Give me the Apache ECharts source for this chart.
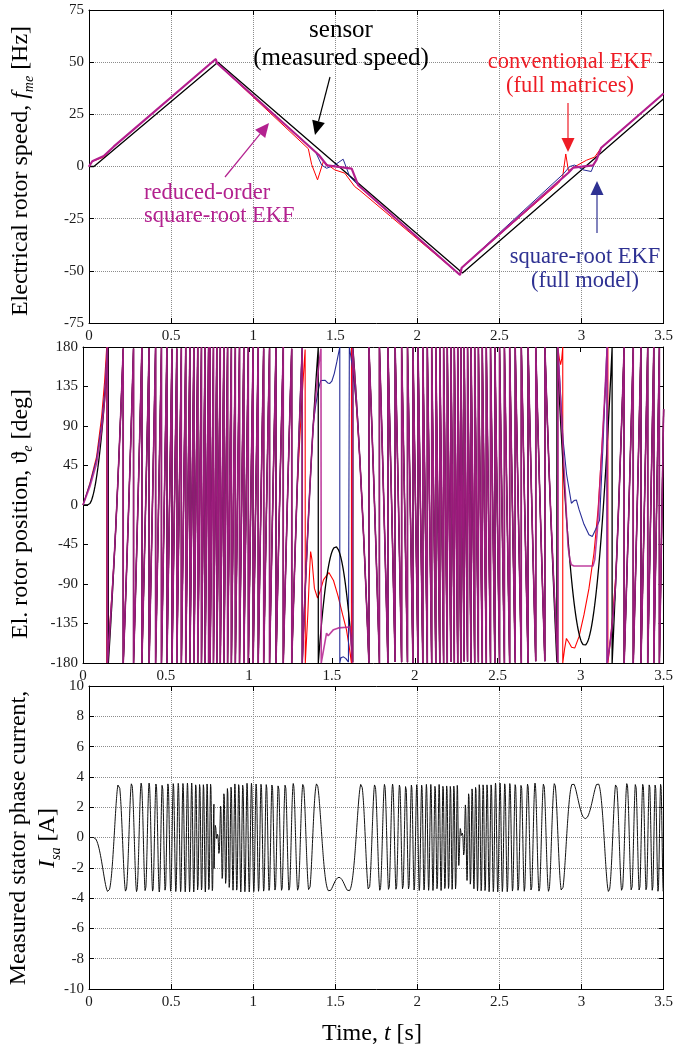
<!DOCTYPE html>
<html>
<head>
<meta charset="utf-8">
<script src="https://cdn.jsdelivr.net/npm/echarts@6/dist/echarts.min.js"></script>
<style>
html, body { margin: 0; padding: 0; background: #fff; }
#chart { width: 676px; height: 1049px; }
</style>
</head>
<body>
<div id="chart"></div>
<script>
// tick labels
var timeTicks = [0, 0.5, 1, 1.5, 2, 2.5, 3, 3.5];
var speedTicks = [-75, -50, -25, 0, 25, 50, 75];
var angleTicks = [-180, -135, -90, -45, 0, 45, 90, 135, 180];
var currentTicks = [-10, -8, -6, -4, -2, 0, 2, 4, 6, 8, 10];

// electrical rotor speed [Hz], breakpoints
var sensorT = [0, 0.03, 0.785, 2.275, 3.5];
var sensorF = [0, 0, 50, -51, 32.5];
var magT = [0, 0.02, 0.09, 0.15, 0.772, 0.78, 1.40, 1.45, 1.60, 1.64, 2.26, 2.27, 2.92, 2.95, 3.07, 3.09, 3.12, 3.5];
var magF = [0, 2.5, 5, 9.5, 51.5, 49.5, 5.5, 0.5, -1, -9, -52, -48.5, -3, -0.5, 0.5, 3, 9, 35];
var redT = [0, 0.02, 0.09, 0.15, 0.772, 0.78, 1.336, 1.356, 1.392, 1.427, 1.497, 1.558, 1.618, 1.65, 2.26, 2.27, 2.86, 2.885, 2.904, 2.92, 2.95, 3.03, 3.08, 3.12, 3.5];
var redF = [0, 2.5, 4.5, 9.5, 51.5, 49.5, 8.5, 1, -6.4, 2.3, -1.6, -3.2, -9.6, -11.5, -52, -48.5, -8, -5, 6, -2, -0.5, 3, 4.5, 9, 35];
var blueT = [0, 0.02, 0.09, 0.15, 0.772, 0.78, 1.38, 1.417, 1.447, 1.497, 1.548, 1.588, 1.64, 2.26, 2.27, 2.89, 2.928, 2.958, 3.009, 3.059, 3.079, 3.12, 3.5];
var blueF = [0, 2.5, 5, 9.5, 51.5, 49.5, 7, 0.7, -0.85, 0.7, 3.5, -4.8, -9, -52, -48.5, -3.5, 0, 0.7, -1.6, -2.4, 1.6, 9, 35];

// electrical position [deg]: sensor anchors, and estimator traces where they are legible (unwrapped)
var sensorAnchors = [[0, 0], [1.524, -47.5], [3.014, -159]];
var magWin0 = [[0, 0], [0.02, 10], [0.042, 21], [0.082, 47.5], [0.112, 85], [0.132, 123], [0.148, 180]];
var magWinA = [[1.436, -180], [1.455, -160], [1.468, -146], [1.478, -149], [1.49, -147], [1.51, -142], [1.54, -140], [1.61, -139], [1.625, -180]];
var magWinB = [[2.862, 180], [2.895, 60], [2.924, -47.5], [2.935, -62], [2.944, -68], [2.96, -69.5], [3.074, -69.5], [3.085, -62], [3.10, -30], [3.13, 70], [3.16, 180]];
var redWin0 = [[0, 0], [0.042, 25], [0.082, 55], [0.112, 100], [0.13, 140], [0.143, 180]];
var redWinA = [[1.34, -180], [1.355, -125], [1.366, -75], [1.372, -53], [1.38, -62], [1.395, -95], [1.414, -106], [1.43, -98], [1.45, -85], [1.482, -77], [1.51, -86], [1.538, -104], [1.565, -125], [1.588, -142], [1.605, -162], [1.618, -180]];
var redWinB = [[2.862, 180], [2.872, 166], [2.879, 160], [2.886, 167], [2.892, 180], [2.903, 196], [2.914, 208], [2.93, 203], [2.945, 198], [2.964, 197], [2.99, 210], [3.02, 235], [3.05, 265], [3.08, 305], [3.105, 355], [3.135, 448], [3.164, 540]];
var blueWin0 = [[0, 0], [0.042, 24], [0.082, 52], [0.112, 92], [0.132, 130], [0.146, 180]];
var blueWinA = [[1.438, 144], [1.46, 142], [1.475, 139], [1.488, 138.6], [1.50, 141], [1.515, 150], [1.53, 163], [1.548, 180], [1.555, 186], [1.57, 187], [1.585, 185], [1.60, 181], [1.605, 180]];
var blueWinB = [[2.862, 180], [2.875, 140], [2.894, 74], [2.915, 35], [2.944, 2], [2.96, 5], [2.974, 5.8], [2.99, -5], [3.02, -22], [3.05, -34], [3.07, -36], [3.09, -28], [3.114, -17], [3.135, 70], [3.158, 180]];

// phase current envelope [A] (sign follows the torque direction)
var ampT = [0, 0.755, 0.765, 0.775, 0.785, 0.795, 0.81, 0.84, 0.9, 2.245, 2.255, 2.265, 2.275, 2.285, 2.30, 2.33, 2.38, 3.5];
var ampA = [-3.6, -3.6, -1.5, -0.4, 0.4, 1.5, 2.8, 3.3, 3.6, 3.5, 1.5, 0.4, -0.4, -1.5, -2.8, -3.3, -3.6, -3.6];

var COL = { black: '#000000', red: '#ff0000', blue: '#262b96', mag: '#b41e8e' };
var TXT = { red: '#ee1c25', blue: '#2e3192', mag: '#b3218f' };
var SERIF = 'Liberation Serif, DejaVu Serif, serif';
var DT = 0.0005, TEND = 3.5, N = Math.round(TEND / DT);
var TAU = 0.05; // how fast the estimates pull back onto the sensor angle

function zip(T, V) { return T.map(function (t, i) { return [t, V[i]]; }); }

function interp(T, V, t) {
  if (t <= T[0]) return V[0];
  for (var i = 1; i < T.length; i++) {
    if (t <= T[i]) return V[i - 1] + (V[i] - V[i - 1]) * (t - T[i - 1]) / (T[i] - T[i - 1]);
  }
  return V[V.length - 1];
}

function wrap180(x) { return x - 360 * Math.floor((x + 180) / 360); }

// cumulative integral of the sensor speed on a fixed grid
var acc = [0];
for (var i = 1; i <= N; i++) {
  acc.push(acc[i - 1] + 0.5 * (interp(sensorT, sensorF, (i - 1) * DT) + interp(sensorT, sensorF, i * DT)) * DT);
}
function Fs(t) {
  var x = t / DT, i = Math.floor(x);
  if (i < 0) return 0;
  if (i >= N) return acc[N];
  return acc[i] + (acc[i + 1] - acc[i]) * (x - i);
}

// sensor angle, integrated from the nearest anchor, kept continuous
var sensorU = [], shift = 0, prevK = 0;
for (i = 0; i <= N; i++) {
  var t = i * DT, k = 0;
  for (var a = 1; a < sensorAnchors.length; a++) {
    if (t >= (sensorAnchors[a - 1][0] + sensorAnchors[a][0]) / 2) k = a;
  }
  var u = sensorAnchors[k][1] + 360 * (Fs(t) - Fs(sensorAnchors[k][0]));
  if (k !== prevK) { shift = 360 * Math.round((sensorU[i - 1] - u) / 360); prevK = k; }
  sensorU.push(u + shift);
}
function sensorAt(t) {
  var x = t / DT, i = Math.floor(x);
  if (i >= N) return sensorU[N];
  return sensorU[i] + (sensorU[i + 1] - sensorU[i]) * (x - i);
}

// estimator angle: read windows, in between it follows the sensor with a fading error
function buildEstimator(windows) {
  var chains = [];
  windows.forEach(function (w, k) {
    chains.push(w.map(function (p) { return [p[0], p[1]]; }));
    var te = w[w.length - 1][0], ue = w[w.length - 1][1];
    var next = windows[k + 1];
    var ts = next ? next[0][0] : TEND;
    var eEnd = wrap180(ue - sensorAt(te));
    var eStart = next ? wrap180(next[0][1] - sensorAt(ts)) : 0;
    var gap = [];
    for (var i = Math.floor(te / DT + 1e-9) + 1; next ? i * DT < ts - 1e-9 : i * DT <= TEND + 1e-9; i++) {
      var t = i * DT;
      var e = eEnd * Math.max(0, 1 - (t - te) / TAU) + eStart * Math.max(0, 1 - (ts - t) / TAU);
      gap.push([t, sensorAt(t) + e]);
    }
    if (gap.length) chains.push(gap);
  });
  return chains;
}

function wrapChains(chains) {
  var out = [];
  chains.forEach(function (pts) {
    for (var j = 0; j < pts.length; j++) {
      var t = pts[j][0], u = pts[j][1];
      if (j > 0) {
        var t0 = pts[j - 1][0], u0 = pts[j - 1][1];
        var n0 = Math.floor((u0 + 180) / 360), n1 = Math.floor((u + 180) / 360), m, b, tc;
        for (m = n0 + 1; m <= n1; m++) {
          b = m * 360 - 180; tc = t0 + (b - u0) / (u - u0) * (t - t0);
          out.push([tc, 180], [tc, -180]);
        }
        for (m = n0; m > n1; m--) {
          b = m * 360 - 180; tc = t0 + (b - u0) / (u - u0) * (t - t0);
          out.push([tc, -180], [tc, 180]);
        }
      }
      out.push([t, wrap180(u)]);
    }
  });
  return out;
}

var sensorChain = sensorU.map(function (u, i) { return [i * DT, u]; });
var sensorPos = wrapChains([sensorChain]);
var magPos = wrapChains(buildEstimator([magWin0, magWinA, magWinB]));
var redPos = wrapChains(buildEstimator([redWin0, redWinA, redWinB]));
var bluePos = wrapChains(buildEstimator([blueWin0, blueWinA, blueWinB]));

var currentData = sensorChain.map(function (p) {
  return [p[0], interp(ampT, ampA, p[0]) * Math.sin(p[1] * Math.PI / 180)];
});

var grids = [
  { left: 89, top: 10, width: 579, height: 313 },
  { left: 83, top: 347, width: 585, height: 316 },
  { left: 89, top: 686, width: 579, height: 303 }
];
var yTicks = [speedTicks, angleTicks, currentTicks];

var xAxes = [], yAxes = [];
[0, 1, 2].forEach(function (g) {
  xAxes.push({
    type: 'value', gridIndex: g, min: timeTicks[0], max: timeTicks[timeTicks.length - 1],
    interval: timeTicks[1] - timeTicks[0],
    axisLine: { show: true, onZero: false, lineStyle: { color: '#000', width: 1 } },
    axisTick: { show: true, inside: true, length: 5, lineStyle: { color: '#000' } },
    axisLabel: { fontFamily: SERIF, fontSize: 15, color: '#1a1a1a', margin: 6, showMinLabel: true, showMaxLabel: true },
    splitLine: { show: g !== 1, lineStyle: { type: 'dotted', color: '#8c8c8c', width: 1 } }
  });
  var yt = yTicks[g];
  yAxes.push({
    type: 'value', gridIndex: g, min: yt[0], max: yt[yt.length - 1], interval: yt[1] - yt[0],
    axisLine: { show: true, onZero: false, lineStyle: { color: '#000', width: 1 } },
    axisTick: { show: true, inside: true, length: 5, lineStyle: { color: '#000' } },
    axisLabel: { fontFamily: SERIF, fontSize: 15, color: '#1a1a1a', margin: 5, showMinLabel: true, showMaxLabel: true },
    splitLine: { show: g !== 1, lineStyle: { type: 'dotted', color: '#8c8c8c', width: 1 } }
  });
});
// mirrored box axes (top / right) with inward ticks
[0, 1, 2].forEach(function (g) {
  var yt = yTicks[g];
  xAxes.push({
    type: 'value', gridIndex: g, position: 'top', min: timeTicks[0], max: timeTicks[timeTicks.length - 1],
    interval: timeTicks[1] - timeTicks[0],
    axisLine: { show: true, onZero: false, lineStyle: { color: '#000', width: 1 } },
    axisTick: { show: true, inside: true, length: 5, lineStyle: { color: '#000' } },
    axisLabel: { show: false }, splitLine: { show: false }
  });
  yAxes.push({
    type: 'value', gridIndex: g, position: 'right', min: yt[0], max: yt[yt.length - 1], interval: yt[1] - yt[0],
    axisLine: { show: true, onZero: false, lineStyle: { color: '#000', width: 1 } },
    axisTick: { show: true, inside: true, length: 5, lineStyle: { color: '#000' } },
    axisLabel: { show: false }, splitLine: { show: false }
  });
});

function lineSeries(g, data, color, w, op) {
  return {
    type: 'line', xAxisIndex: g, yAxisIndex: g, data: data,
    showSymbol: false, symbol: 'none', silent: true, animation: false, clip: true,
    lineStyle: { color: color, width: w, opacity: op == null ? 1 : op }, itemStyle: { color: color }
  };
}

var series = [
  lineSeries(0, zip(sensorT, sensorF), COL.black, 1.3),
  lineSeries(0, zip(redT, redF), COL.red, 1),
  lineSeries(0, zip(blueT, blueF), COL.blue, 1),
  lineSeries(0, zip(magT, magF), COL.mag, 2.2),
  lineSeries(1, redPos, COL.red, 1.1),
  lineSeries(1, bluePos, COL.blue, 1.1),
  lineSeries(1, sensorPos, COL.black, 1.3),
  lineSeries(1, magPos, COL.mag, 1.6, 0.85),
  lineSeries(2, currentData, '#111', 1)
];

function arrow(x1, y1, x2, y2, color) {
  var dx = x2 - x1, dy = y2 - y1, L = Math.sqrt(dx * dx + dy * dy), ux = dx / L, uy = dy / L;
  var hl = 14, hw = 6.5, bx = x2 - ux * hl, by = y2 - uy * hl;
  return [
    { type: 'line', shape: { x1: x1, y1: y1, x2: bx, y2: by }, style: { stroke: color, lineWidth: 1.2 }, z: 100 },
    { type: 'polygon', shape: { points: [[x2, y2], [bx - uy * hw, by + ux * hw], [bx + uy * hw, by - ux * hw]] }, style: { fill: color }, z: 100 }
  ];
}

function label(x, y, text, color, size, align) {
  return {
    type: 'text', x: x, y: y, z: 100,
    style: { text: text, fill: color, fontFamily: SERIF, fontSize: size, align: align || 'center', verticalAlign: 'middle' }
  };
}

var titleRich = {
  it: { fontFamily: SERIF, fontSize: 24, fontStyle: 'italic', lineHeight: 30 },
  sub: { fontFamily: SERIF, fontSize: 14, fontStyle: 'italic', lineHeight: 14, verticalAlign: 'bottom' }
};
function title(x, y, text, rot) {
  return {
    type: 'text', x: x, y: y, rotation: rot, z: 100,
    style: { text: text, rich: titleRich, fill: '#000', fontFamily: SERIF, fontSize: 24, lineHeight: 28, align: 'center', verticalAlign: 'middle' }
  };
}

var graphics = [
  title(21, 171, 'Electrical rotor speed, {it|f}{sub|me} [Hz]', Math.PI / 2),
  title(21, 514, 'El. rotor position, \u03d1{sub|e} [deg]', Math.PI / 2),
  title(34, 838, 'Measured stator phase current,\n{it|I}{sub|sa} [A]', Math.PI / 2),
  title(372, 1034, 'Time, {it|t} [s]', 0),
  label(341, 30, 'sensor', '#000', 25),
  label(341, 58, '(measured speed)', '#000', 25),
  label(570, 62, 'conventional EKF', TXT.red, 22.5),
  label(570, 86, '(full matrices)', TXT.red, 22.5),
  label(144, 193, 'reduced-order', TXT.mag, 22.5, 'left'),
  label(144, 216, 'square-root EKF', TXT.mag, 22.5, 'left'),
  label(585, 257, 'square-root EKF', TXT.blue, 22.5),
  label(585, 281, '(full model)', TXT.blue, 22.5)
].concat(
  arrow(330, 77, 315, 135, '#000'),
  arrow(568, 103, 568, 152, TXT.red),
  arrow(225, 177, 269, 123, TXT.mag),
  arrow(597, 233, 597, 181, TXT.blue)
);

var chart = echarts.init(document.getElementById('chart'), null, { renderer: 'canvas' });
chart.setOption({
  backgroundColor: '#ffffff',
  animation: false,
  grid: grids,
  xAxis: xAxes,
  yAxis: yAxes,
  series: series,
  graphic: graphics
});
</script>
</body>
</html>
